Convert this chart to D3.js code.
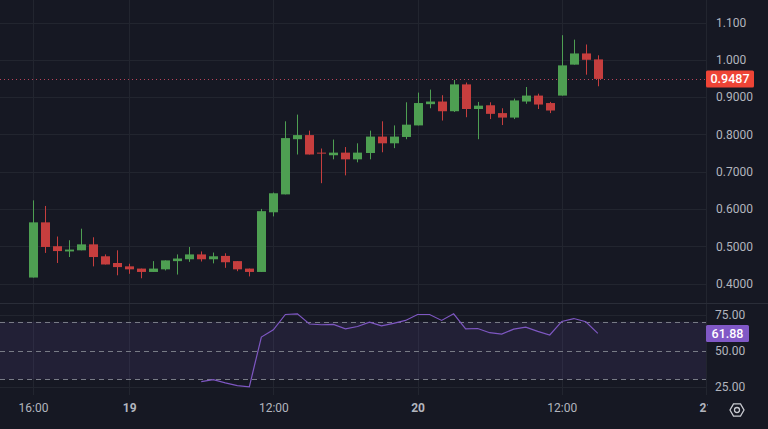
<!DOCTYPE html>
<html>
<head>
<meta charset="utf-8">
<script src="https://cdn.jsdelivr.net/npm/d3@7/dist/d3.min.js"></script>
<style>
html, body { margin: 0; padding: 0; background: #161823; overflow: hidden; }
text { font-family: Roboto, "Noto Sans", sans-serif; }
</style>
</head>
<body>
<div id="chart"></div>
<script>
// hourly candles, 18th 16:00 -> 20th 15:00
var startTime = new Date(2024, 0, 18, 16);
var endTime = new Date(2024, 0, 20, 16);
var times = d3.timeHour.range(startTime, endTime);

var open  = [0.416,0.564,0.500,0.486,0.489,0.505,0.473,0.455,0.446,0.440,0.431,0.438,0.460,0.465,0.478,0.465,0.474,0.460,0.440,0.431,
             0.591,0.639,0.787,0.798,0.751,0.744,0.751,0.733,0.750,0.794,0.776,0.793,0.824,0.881,0.888,0.862,0.934,0.868,0.878,0.857,
             0.845,0.888,0.904,0.884,0.904,0.987,1.017,1.001];
var high  = [0.623,0.608,0.526,0.516,0.547,0.524,0.478,0.489,0.453,0.440,0.460,0.462,0.478,0.498,0.486,0.483,0.481,0.460,0.440,0.600,
             0.644,0.835,0.853,0.810,0.762,0.786,0.766,0.776,0.810,0.835,0.824,0.886,0.912,0.920,0.905,0.946,0.939,0.887,0.886,0.870,
             0.896,0.927,0.909,0.887,1.066,1.054,1.041,1.012];
var low   = [0.416,0.482,0.455,0.471,0.489,0.446,0.451,0.422,0.426,0.414,0.431,0.435,0.424,0.458,0.459,0.454,0.442,0.433,0.419,0.431,
             0.580,0.639,0.746,0.746,0.669,0.733,0.690,0.725,0.733,0.752,0.763,0.787,0.824,0.870,0.837,0.860,0.846,0.787,0.841,0.825,
             0.841,0.882,0.868,0.857,0.904,0.987,0.960,0.929];
var close = [0.564,0.498,0.487,0.491,0.505,0.471,0.451,0.444,0.438,0.431,0.440,0.462,0.467,0.478,0.465,0.473,0.457,0.438,0.431,0.594,
             0.642,0.790,0.798,0.746,0.749,0.751,0.733,0.751,0.794,0.776,0.794,0.826,0.884,0.888,0.862,0.934,0.868,0.877,0.855,0.845,
             0.891,0.904,0.880,0.864,0.985,1.017,1.000,0.9487];
var rsi   = [null,null,null,null,null,null,null,null,null,null,null,null,null,null,28.5,29.9,27.6,25.8,24.9,59.4,
             64.4,75.0,75.5,68.4,67.9,68.1,65.1,66.7,69.7,67.2,68.8,70.9,75.0,75.0,70.9,75.5,65.1,65.3,62.4,61.4,
             64.9,66.3,63.3,60.8,70.2,72.2,70.0,61.88];

var priceTicks = [0.4, 0.5, 0.6, 0.7, 0.8, 0.9, 1.0, 1.1];
var priceTickLabels = ["0.4000","0.5000","0.6000","0.7000","0.8000","0.9000","1.000","1.100"];
var rsiTicks = [25, 50, 75];
var rsiBands = [30, 50, 70];
var timeTicks = [new Date(2024,0,18,16), new Date(2024,0,19,0), new Date(2024,0,19,12),
                 new Date(2024,0,20,0), new Date(2024,0,20,12), new Date(2024,0,21,0)];
var lastPrice = "0.9487";
var lastRsi = "61.88";

var W = 768, H = 429, plotRight = 706;
var bg = "#161823", gridColor = "#22252f", textColor = "#b2b5be";
var upColor = "#4e9f52", downColor = "#c63e3e";

var svg = d3.select("#chart").append("svg")
    .attr("width", W).attr("height", H)
    .style("display", "block");
svg.append("rect").attr("width", W).attr("height", H).attr("fill", bg);

var x = d3.scaleTime()
    .domain([new Date(2024,0,18,16), new Date(2024,0,21,0)])
    .range([33, 706]);
var y = d3.scaleLinear().domain([0.4, 1.1]).range([283.5, 22.5]);
var yr = d3.scaleLinear().domain([25, 75]).range([386.7, 314.5]);

var plot = svg.append("g");
plot.append("clipPath").attr("id", "clip")
  .append("rect").attr("x", 0).attr("y", 0).attr("width", plotRight).attr("height", 395);

// vertical grid
plot.selectAll(".vgrid").data(timeTicks).enter().append("line")
    .attr("x1", function(d){ return Math.round(x(d)) + 0.5; })
    .attr("x2", function(d){ return Math.round(x(d)) + 0.5; })
    .attr("y1", 0).attr("y2", 395)
    .attr("stroke", gridColor);

// price grid
plot.selectAll(".pgrid").data(priceTicks).enter().append("line")
    .attr("x1", 0).attr("x2", plotRight)
    .attr("y1", function(d){ return Math.round(y(d)) + 0.5; })
    .attr("y2", function(d){ return Math.round(y(d)) + 0.5; })
    .attr("stroke", gridColor);

// pane separator
plot.append("line").attr("x1", 0).attr("x2", W).attr("y1", 303.5).attr("y2", 303.5)
    .attr("stroke", "#2a2d38");

// rsi grid
plot.selectAll(".rgrid").data(rsiTicks.filter(function(d){ return d != 50; })).enter().append("line")
    .attr("x1", 0).attr("x2", plotRight)
    .attr("y1", function(d){ return Math.round(yr(d)) + 0.5; })
    .attr("y2", function(d){ return Math.round(yr(d)) + 0.5; })
    .attr("stroke", gridColor);

// rsi band
plot.append("rect")
    .attr("x", 0).attr("width", plotRight)
    .attr("y", yr(rsiBands[2])).attr("height", yr(rsiBands[0]) - yr(rsiBands[2]))
    .attr("fill", "rgba(126,87,194,0.12)");
plot.selectAll(".band").data(rsiBands).enter().append("line")
    .attr("x1", 0).attr("x2", plotRight)
    .attr("y1", function(d){ return Math.round(yr(d)) + 0.5; })
    .attr("y2", function(d){ return Math.round(yr(d)) + 0.5; })
    .attr("stroke", "#787b86").attr("stroke-dasharray", "5,4");

// last price line
plot.append("line").attr("x1", 0).attr("x2", plotRight)
    .attr("y1", Math.round(y(+lastPrice)) + 0.5).attr("y2", Math.round(y(+lastPrice)) + 0.5)
    .attr("stroke", "#b8445a").attr("stroke-dasharray", "1,3");

// candles
var candles = times.map(function(t, i){
  return {t: t, o: open[i], h: high[i], l: low[i], c: close[i]};
});
var cg = plot.append("g").attr("clip-path", "url(#clip)");
cg.selectAll(".wick").data(candles).enter().append("line")
    .attr("x1", function(d){ return Math.round(x(d.t)) + 0.5; })
    .attr("x2", function(d){ return Math.round(x(d.t)) + 0.5; })
    .attr("y1", function(d){ return y(d.h); })
    .attr("y2", function(d){ return y(d.l); })
    .attr("stroke", function(d){ return d.c >= d.o ? upColor : downColor; });
cg.selectAll(".body").data(candles).enter().append("rect")
    .attr("x", function(d){ return Math.round(x(d.t)) - 4; })
    .attr("width", 9)
    .attr("y", function(d){ return y(Math.max(d.o, d.c)); })
    .attr("height", function(d){ return Math.max(1, Math.abs(y(d.o) - y(d.c))); })
    .attr("fill", function(d){ return d.c >= d.o ? upColor : downColor; });

// rsi line
var line = d3.line()
    .defined(function(d){ return d.v != null; })
    .x(function(d){ return x(d.t); })
    .y(function(d){ return yr(d.v); });
plot.append("path")
    .datum(times.map(function(t, i){ return {t: t, v: rsi[i]}; }))
    .attr("d", line)
    .attr("fill", "none").attr("stroke", "#7e57c2").attr("stroke-width", 1.2);

// price axis
var pAxis = svg.append("g").attr("transform", "translate(712,0)")
    .call(d3.axisRight(y).tickValues(priceTicks)
      .tickFormat(function(d, i){ return priceTickLabels[i]; }).tickSize(0).tickPadding(4));
pAxis.select(".domain").remove();
pAxis.selectAll("text").attr("fill", textColor).style("font-size", "12px");

var rAxis = svg.append("g").attr("transform", "translate(711,0)")
    .call(d3.axisRight(yr).tickValues(rsiTicks).tickFormat(d3.format(".2f")).tickSize(0).tickPadding(4));
rAxis.select(".domain").remove();
rAxis.selectAll("text").attr("fill", textColor).style("font-size", "12px");

// time axis
var tAxis = svg.append("g").attr("transform", "translate(0,397)")
    .call(d3.axisBottom(x).tickValues(timeTicks).tickSize(0).tickPadding(6)
      .tickFormat(function(d){ return d.getHours() === 0 ? d3.timeFormat("%-d")(d) : d3.timeFormat("%H:%M")(d); }));
tAxis.select(".domain").remove();
tAxis.selectAll("text").attr("fill", textColor).style("font-size", "12px")
    .style("font-weight", function(d){ return d.getHours() === 0 ? "bold" : "normal"; });
// right axis covers time labels that run past the plot
svg.append("rect").attr("x", plotRight + 2).attr("y", 395).attr("width", W - plotRight).attr("height", 34).attr("fill", bg);

// last value labels
function valueTag(yPos, txt, fill, w) {
  var g = svg.append("g").attr("transform", "translate(706," + yPos + ")");
  g.append("rect").attr("x", 0).attr("y", -8.5).attr("width", w).attr("height", 17).attr("rx", 1.5).attr("fill", fill);
  g.append("text").attr("x", w / 2).attr("y", 0).attr("dy", "0.35em").attr("text-anchor", "middle")
    .attr("fill", "#ffffff").style("font-size", "12.5px").style("font-weight", "500").text(txt);
}
valueTag(y(+lastPrice), lastPrice, "#ee4436", 48);
valueTag(yr(+lastRsi), lastRsi, "#8058c6", 43);

// settings icon
var gear = svg.append("g").attr("transform", "translate(737,410)");
var hex = d3.range(6).map(function(k){
  var a = Math.PI / 3 * k;
  return [7 * Math.cos(a), 7 * Math.sin(a)];
});
gear.append("path").attr("d", "M" + hex.join("L") + "Z")
    .attr("fill", "none").attr("stroke", "#c8cad0").attr("stroke-width", 1.3);
gear.append("circle").attr("r", 2.5).attr("fill", "none").attr("stroke", "#c8cad0").attr("stroke-width", 1.3);
</script>
</body>
</html>
